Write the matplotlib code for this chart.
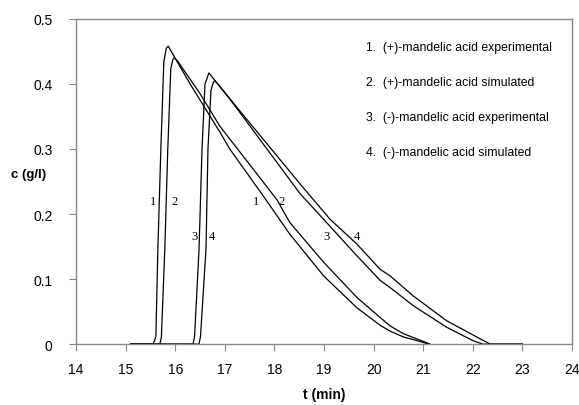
import matplotlib
matplotlib.use("Agg")
import matplotlib.pyplot as plt

# (+)-mandelic acid, experimental
t1 = [15.1, 15.55, 15.58, 15.61, 15.65, 15.71, 15.77, 15.82, 15.86, 15.92, 16.3, 16.9, 17.1,
      17.8, 18.31, 18.99, 19.66, 20.13, 20.33, 20.6, 20.94, 21.1]
c1 = [0.0, 0.0, 0.005, 0.012, 0.146, 0.30, 0.434, 0.455, 0.458, 0.45, 0.40, 0.326, 0.30,
      0.225, 0.169, 0.105, 0.056, 0.029, 0.020, 0.011, 0.004, 0.0]

# (+)-mandelic acid, simulated
t2 = [15.1, 15.69, 15.72, 15.79, 15.85, 15.91, 15.95, 15.98, 16.05, 16.5, 16.9, 18.05,
      18.31, 18.99, 19.66, 20.13, 20.33, 20.6, 20.87, 21.14]
c2 = [0.0, 0.0, 0.01, 0.146, 0.30, 0.423, 0.437, 0.44, 0.435, 0.385, 0.335, 0.222,
      0.187, 0.126, 0.072, 0.041, 0.028, 0.016, 0.008, 0.0]

# (-)-mandelic acid, experimental
t3 = [15.1, 16.36, 16.39, 16.48, 16.54, 16.60, 16.68, 16.75, 17.1, 18.52, 18.99, 19.66,
      20.13, 20.33, 20.80, 21.47, 22.01, 22.2, 23.0]
c3 = [0.0, 0.0, 0.012, 0.146, 0.30, 0.40, 0.417, 0.41, 0.377, 0.231, 0.192, 0.136,
      0.098, 0.087, 0.059, 0.026, 0.005, 0.0, 0.0]

# (-)-mandelic acid, simulated
t4 = [15.1, 16.48, 16.51, 16.62, 16.66, 16.72, 16.77, 16.80, 16.88, 17.2, 18.52, 19.12,
      19.66, 20.13, 20.33, 20.80, 21.47, 22.15, 22.35, 23.0]
c4 = [0.0, 0.0, 0.012, 0.146, 0.30, 0.39, 0.403, 0.405, 0.398, 0.368, 0.246, 0.192,
      0.154, 0.115, 0.105, 0.074, 0.036, 0.008, 0.0, 0.0]

legend_lines = ["1.  (+)-mandelic acid experimental",
                "2.  (+)-mandelic acid simulated",
                "3.  (-)-mandelic acid experimental",
                "4.  (-)-mandelic acid simulated"]

# curve number labels (t, c, text)
label_t = [15.55, 15.98, 16.38, 16.74, 17.62, 18.15, 19.04, 19.66]
label_c = [0.22, 0.22, 0.166, 0.166, 0.22, 0.22, 0.166, 0.166]
label_txt = ["1", "2", "3", "4", "1", "2", "3", "4"]

fig = plt.figure(figsize=(5.79, 4.06), dpi=100)
ax = fig.add_axes([0.1313, 0.150, 0.8567, 0.801])

for t, c in [(t1, c1), (t2, c2), (t3, c3), (t4, c4)]:
    ax.plot(t, c, color="black", linewidth=0.9)

for x, y, s in zip(label_t, label_c, label_txt):
    ax.text(x, y, s, family="Liberation Serif", fontsize=9, ha="center", va="center")

for i, s in enumerate(legend_lines):
    ax.text(0.585, 0.915 - i * 0.108, s, transform=ax.transAxes, family="Liberation Sans",
            fontsize=8.8, ha="left", va="center")

ax.set_xlim(14, 24)
ax.set_ylim(0, 0.5)
ax.set_xticks(range(14, 25))
ax.set_yticks([0, 0.1, 0.2, 0.3, 0.4, 0.5])
ax.set_yticklabels(["0", "0.1", "0.2", "0.3", "0.4", "0.5"])
for sp in ax.spines.values():
    sp.set_color("#888888")
    sp.set_linewidth(1.0)
ax.tick_params(direction="out", length=5, color="#888888", labelsize=10)
ax.tick_params(axis="x", pad=8)
ax.tick_params(axis="y", pad=12)
for lab in ax.get_xticklabels() + ax.get_yticklabels():
    lab.set_family("Liberation Sans")

ax.set_xlabel("t (min)", family="Liberation Sans", fontweight="bold", fontsize=10, labelpad=8)
ax.set_ylabel("c (g/l)", family="Liberation Sans", fontweight="bold", fontsize=9.5,
              rotation=0, ha="center", va="center")
ax.yaxis.set_label_coords(-0.095, 0.523)

fig.savefig("out.png", dpi=100)
